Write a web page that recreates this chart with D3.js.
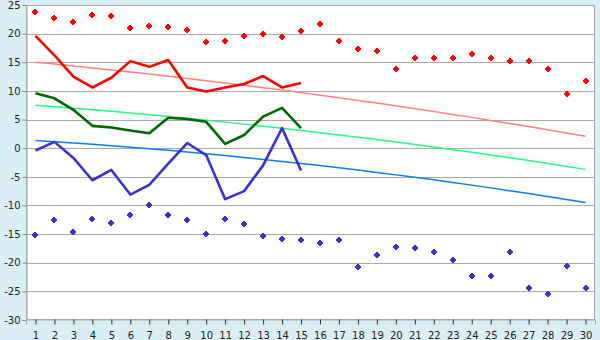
<!DOCTYPE html>
<html>
<head>
<meta charset="utf-8">
<script src="https://cdn.jsdelivr.net/npm/d3@7"></script>
<style>
  html, body { margin: 0; padding: 0; background: #daeef6; }
  svg { display: block; }
  text { font-family: "DejaVu Sans", Verdana, sans-serif; }
</style>
</head>
<body>
<svg id="chart" width="600" height="340"></svg>
<script>
// ---- data ----
const days = d3.range(1, 31);
const yTicks = [-30, -25, -20, -15, -10, -5, 0, 5, 10, 15, 20, 25];

const maxRecord = [23.7, 22.7, 22.0, 23.2, 23.0, 20.9, 21.4, 21.1, 20.6, 18.5,
                   18.7, 19.5, 19.9, 19.4, 20.4, 21.6, 18.7, 17.3, 16.9, 13.9,
                   15.7, 15.7, 15.7, 16.4, 15.7, 15.2, 15.2, 13.9, 9.4, 11.8];
const minRecord = [-15.1, -12.5, -14.6, -12.3, -13.0, -11.6, -10.0, -11.6, -12.5, -14.9,
                   -12.3, -13.2, -15.4, -15.8, -16.0, -16.5, -16.0, -20.7, -18.6, -17.2,
                   -17.4, -18.2, -19.5, -22.3, -22.3, -18.1, -24.4, -25.4, -20.5, -24.4];

const maxObs  = [19.6, 16.2, 12.5, 10.6, 12.3, 15.2, 14.2, 15.4, 10.6, 9.9,
                 10.6, 11.2, 12.6, 10.6, 11.4];
const meanObs = [9.6, 8.7, 6.7, 3.9, 3.6, 3.1, 2.6, 5.3, 5.1, 4.6,
                 0.75, 2.3, 5.5, 7.05, 3.5];
const minObs  = [-0.4, 1.1, -1.7, -5.6, -3.8, -8.1, -6.4, -2.7, 0.9, -1.2,
                 -8.9, -7.5, -3.0, 3.5, -3.9];

const maxNormal  = [15.0, 14.68, 14.35, 14.01, 13.66, 13.31, 12.94, 12.57, 12.18, 11.79,
                    11.39, 10.98, 10.56, 10.14, 9.70, 9.25, 8.80, 8.34, 7.87, 7.39,
                    6.90, 6.40, 5.89, 5.38, 4.85, 4.32, 3.78, 3.23, 2.67, 2.10];
const meanNormal = [7.50, 7.25, 6.99, 6.72, 6.43, 6.14, 5.84, 5.53, 5.22, 4.89,
                    4.55, 4.20, 3.84, 3.48, 3.10, 2.71, 2.32, 1.91, 1.50, 1.07,
                    0.64, 0.19, -0.26, -0.72, -1.20, -1.68, -2.17, -2.67, -3.18, -3.70];
const minNormal  = [1.35, 1.14, 0.92, 0.68, 0.43, 0.18, -0.09, -0.38, -0.67, -0.97,
                    -1.29, -1.62, -1.96, -2.31, -2.67, -3.04, -3.43, -3.83, -4.24, -4.66,
                    -5.09, -5.53, -5.99, -6.45, -6.93, -7.42, -7.92, -8.44, -8.96, -9.50];

// ---- layout ----
const svg = d3.select("#chart");
const L = 26, R = 595, T = 5, B = 320;

const x = d3.scalePoint().domain(days).range([L, R]).padding(0.5);
const y = d3.scaleLinear().domain([-30, 25]).range([B, T]);

// plot background
svg.append("rect").attr("x", L).attr("y", T).attr("width", R - L).attr("height", B - T)
  .attr("fill", "#ffffff");

// gridlines
svg.append("g").selectAll("line").data(yTicks.filter(v => v > -30 && v < 25)).join("line")
  .attr("x1", L).attr("x2", R)
  .attr("y1", d => Math.round(y(d)) + 0.5).attr("y2", d => Math.round(y(d)) + 0.5)
  .attr("stroke", "#aaaaaa").attr("stroke-width", 1);

// border
svg.append("rect").attr("x", L + 0.5).attr("y", T + 0.5).attr("width", R - L - 1).attr("height", B - T - 1)
  .attr("fill", "none").attr("stroke", "#aaaaaa").attr("stroke-width", 1);

// axes
const yAxis = svg.append("g").attr("transform", `translate(${L + 0.5},0)`)
  .call(d3.axisLeft(y).tickValues(yTicks).tickSize(4).tickPadding(2).tickFormat(d => d < 0 ? "-" + Math.abs(d) : d));
yAxis.select(".domain").attr("stroke", "#aaaaaa");
yAxis.selectAll(".tick line").attr("stroke", "#888888");
yAxis.selectAll("text").attr("font-size", 10).attr("fill", "#222");

const xAxis = svg.append("g").attr("transform", `translate(0,${B - 0.5})`)
  .call(d3.axisBottom(x).tickSize(5).tickPadding(7));
xAxis.select(".domain").attr("stroke", "#aaaaaa");
xAxis.selectAll(".tick line").attr("stroke", "#333333");
xAxis.selectAll("text").attr("font-size", 10).attr("fill", "#222");

// lines
const line = d3.line().x((d, i) => x(days[i])).y(d => y(d));

function drawLine(data, color, width) {
  svg.append("path").datum(data).attr("d", line)
    .attr("fill", "none").attr("stroke", color).attr("stroke-width", width)
    .attr("stroke-linejoin", "round");
}

drawLine(maxNormal, "#ff8080", 1.5);
drawLine(meanNormal, "#22ff88", 1.5);
drawLine(minNormal, "#0a7cf0", 1.5);

drawLine(maxObs, "#ff0000", 2.6);
drawLine(meanObs, "#006600", 2.6);
drawLine(minObs, "#3a32cc", 2.6);

// markers
const marker = "M-1,-3h2v1h1v1h1v2h-1v1h-1v1h-2v-1h-1v-1h-1v-2h1v-1h1z";
function drawMarkers(data, color) {
  svg.append("g").selectAll("path").data(data).join("path")
    .attr("d", marker)
    .attr("transform", (d, i) => `translate(${Math.round(x(days[i]))},${Math.round(y(d))})`)
    .attr("fill", color);
}
drawMarkers(maxRecord, "#ff0000");
drawMarkers(minRecord, "#3a32cc");
</script>
</body>
</html>
